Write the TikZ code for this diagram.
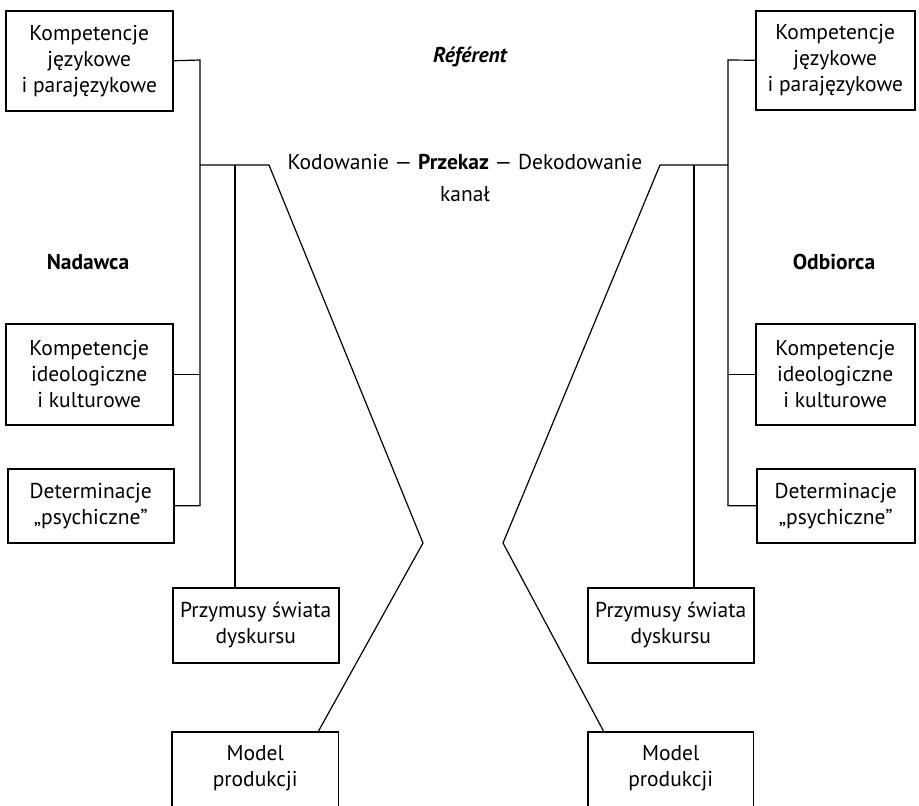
\documentclass[tikz,border=0pt]{standalone}
\usepackage{fontspec}
\setmainfont{PT Sans}
\begin{document}
\begin{tikzpicture}[x=1pt,y=-1pt,
  box/.style={draw, line width=1.5pt, align=center, font=\fontsize{21.5}{26}\selectfont, inner sep=0pt, anchor=north west},
  opbox/.style={align=center, font=\fontsize{21.5}{26}\selectfont, inner sep=0pt, anchor=north west},
  conn/.style={line width=1.2pt, line join=miter},
  lbl/.style={font=\fontsize{21.5}{26}\selectfont, inner sep=0pt}]
\useasboundingbox (0,0) rectangle (919,806);
% left boxes
\node[box, minimum width=167, minimum height=100] (kj1) at (5,10) {Kompetencje\\językowe\\i parajęzykowe};
\node[box, minimum width=167, minimum height=101] (ki1) at (5,323) {Kompetencje\\ideologiczne\\i kulturowe};
\node[box, minimum width=166, minimum height=74] (de1) at (7,468) {Determinacje\\„psychiczne”};
\node[box, minimum width=166, minimum height=75] (pr1) at (172,587) {Przymusy świata\\dyskursu};
\node[opbox, minimum width=166, minimum height=72] (mo1) at (172,732) {Model\\produkcji};
\draw[line width=1.5pt] (mo1.west |- 0,810) |- (mo1.north east) -- (mo1.east |- 0,810);
% right boxes
\node[box, minimum width=159, minimum height=99] (kj2) at (755,10) {Kompetencje\\językowe\\i parajęzykowe};
\node[box, minimum width=159, minimum height=101] (ki2) at (755,323) {Kompetencje\\ideologiczne\\i kulturowe};
\node[box, minimum width=158, minimum height=74] (de2) at (756,468) {Determinacje\\„psychiczne”};
\node[box, minimum width=166, minimum height=75] (pr2) at (587,587) {Przymusy świata\\dyskursu};
\node[opbox, minimum width=165, minimum height=72] (mo2) at (588,732) {Model\\produkcji};
\draw[line width=1.5pt] (mo2.west |- 0,810) |- (mo2.north east) -- (mo2.east |- 0,810);
% labels
\node[lbl, font=\fontsize{21.5}{26}\selectfont\bfseries\itshape] (ref) at (470,57) {Référent};
\node[lbl] (kod) at (465,162) {Kodowanie — \textbf{Przekaz} — Dekodowanie};
\node[lbl] (kan) at (465,194) {kanał};
\node[lbl, font=\fontsize{21.5}{26}\selectfont\bfseries] (nad) at (88,262) {Nadawca};
\node[lbl, font=\fontsize{21.5}{26}\selectfont\bfseries] (odb) at (834,262) {Odbiorca};
% left connectors
\coordinate (l1) at (200,60);
\coordinate (l2) at (200,165);
\coordinate (l3) at (269,165);
\coordinate (l4) at (423,543);
\coordinate (l5) at (318,732);
\coordinate (l6) at (235,165);
\draw[conn] (kj1.east) -- (l1) |- (de1.east);
\draw[conn] (ki1.east) -- (ki1.east -| l1);
\draw[conn] (l2) -- (l3) -- (l4) -- (l5);
\draw[conn] (l6) -- (l6 |- pr1.north);
% right connectors
\coordinate (r1) at (728,60);
\coordinate (r2) at (728,165);
\coordinate (r3) at (660,165);
\coordinate (r4) at (503,543);
\coordinate (r5) at (604,732);
\coordinate (r6) at (694,165);
\draw[conn] (kj2.west) -- (r1) |- (de2.west);
\draw[conn] (ki2.west) -- (ki2.west -| r1);
\draw[conn] (r2) -- (r3) -- (r4) -- (r5);
\draw[conn] (r6) -- (r6 |- pr2.north);
\end{tikzpicture}
\end{document}
